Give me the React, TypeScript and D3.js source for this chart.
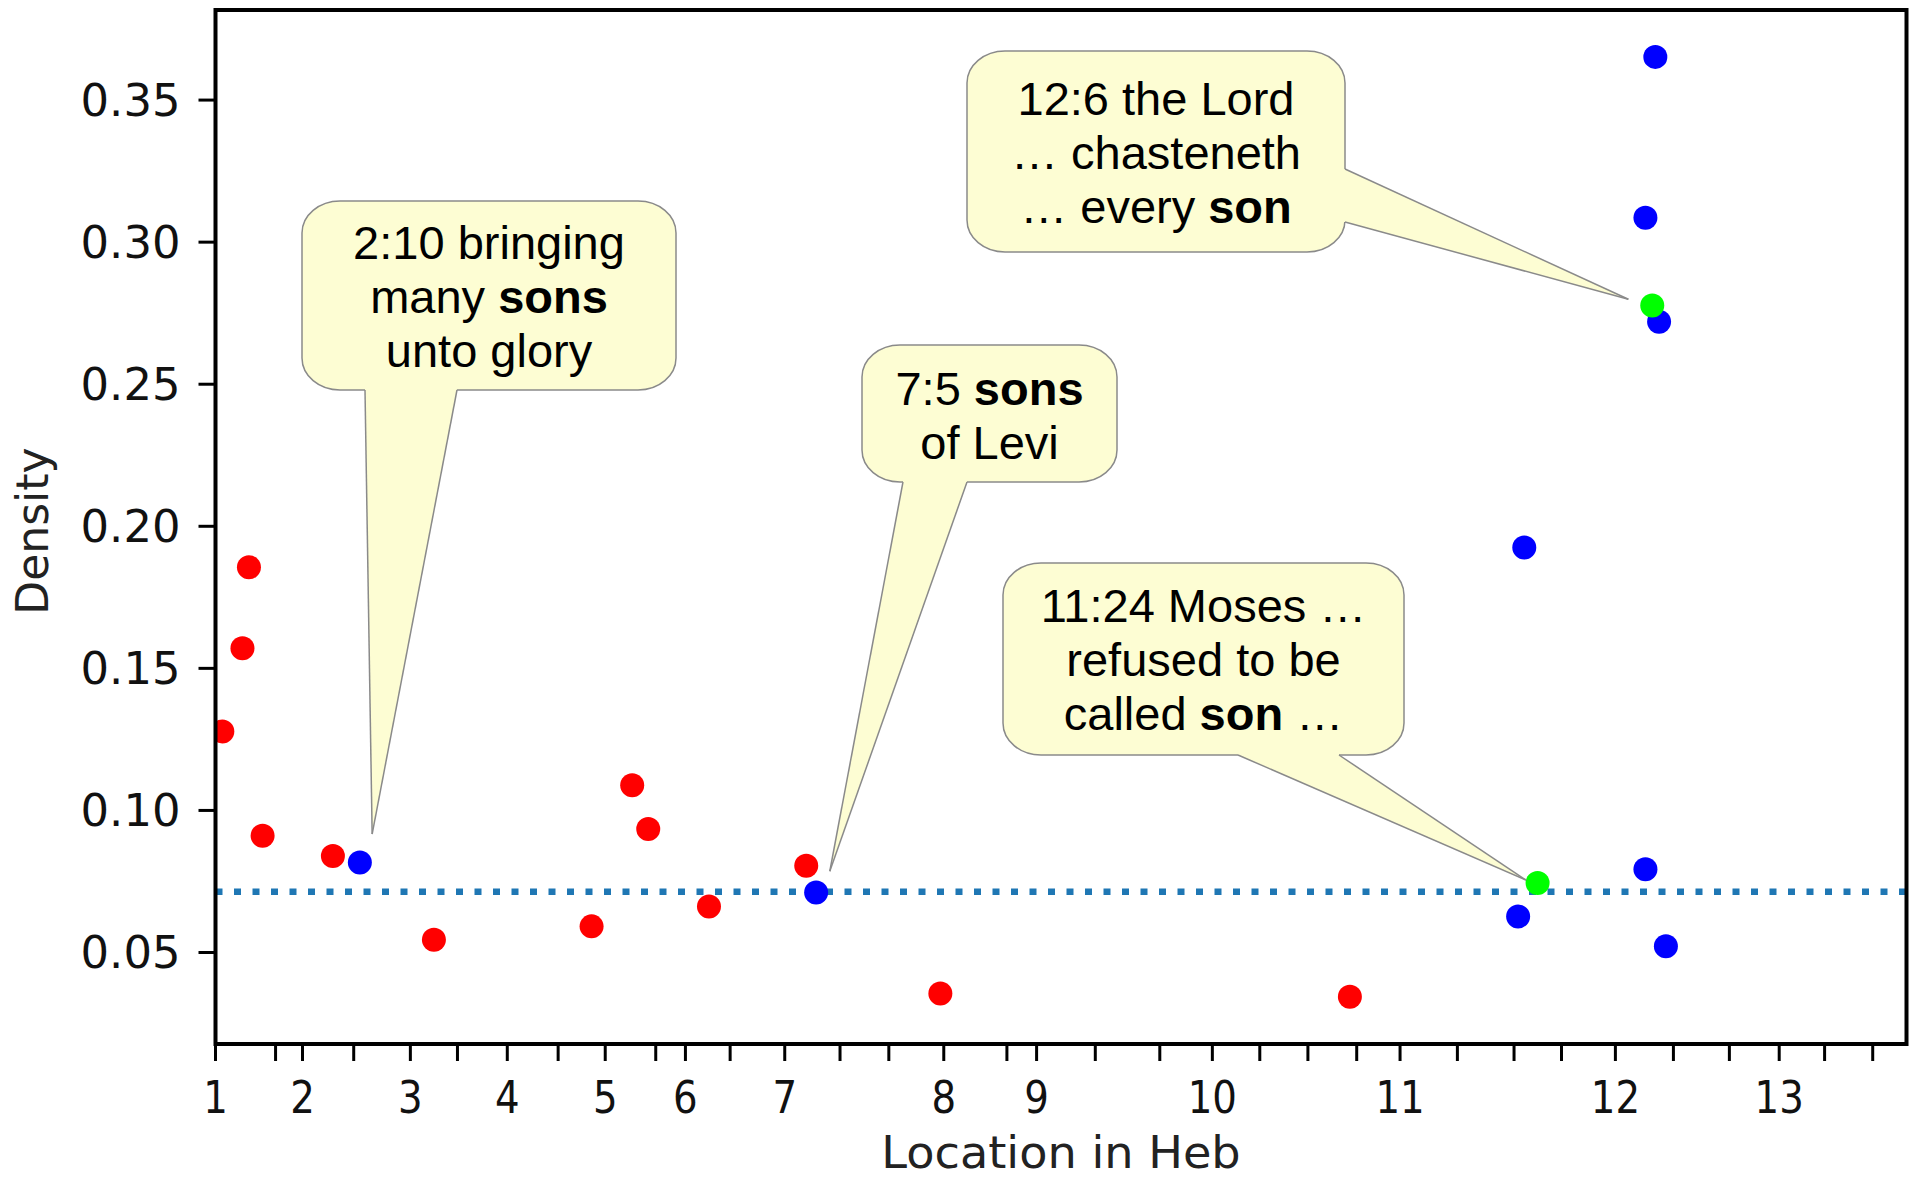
import * as d3 from "d3";

// x is a running position through Hebrews (word offset); ticks at chapter starts + every 10 verses
const CHAPTER_LABELS = ["1", "2", "3", "4", "5", "6", "7", "8", "9", "10", "11", "12", "13"];
const CHAPTER_START = [0, 255, 571, 855, 1142, 1377, 1668, 2134, 2406, 2921, 3471, 4102, 4582];
const MINOR_TICKS = [176, 405, 709, 1004, 1290, 1508, 1830, 1973, 2319, 2578, 2767, 3060, 3201, 3344, 3639, 3805, 3944, 4272, 4436, 4715, 4856];
const BOOK_END = 4955;

const Y_TICKS = [0.05, 0.1, 0.15, 0.2, 0.25, 0.3, 0.35];
const Y_DOMAIN = [0.0178, 0.3817];
const MEAN_DENSITY = 0.0714;

const RED_LOC = [20, 79, 98, 138, 344, 640, 1102, 1221, 1268, 1446, 1731, 2124, 3324];
const RED_VAL = [0.1278, 0.1571, 0.1856, 0.0911, 0.084, 0.0545, 0.0592, 0.1089, 0.0935, 0.0662, 0.0805, 0.0356, 0.0344];
const BLUE_LOC = [423, 1760, 3817, 3835, 4190, 4190, 4219, 4230, 4250];
const BLUE_VAL = [0.0817, 0.0711, 0.0627, 0.1925, 0.0793, 0.3086, 0.3652, 0.272, 0.0522];
const GREEN_LOC = [3874, 4210];
const GREEN_VAL = [0.0745, 0.2777];

type Seg = [string, boolean];
interface Note {
  lines: Seg[][];
  tip: [number, number];
  box: [number, number, number, number];
  side: "bottom" | "right";
  base: [number, number];
  firstBaseline: number;
}

const NOTES: Note[] = [
  {
    lines: [[["2:10 bringing", false]], [["many ", false], ["sons", true]], [["unto glory", false]]],
    tip: [459, 0.0917], box: [302, 201, 676, 390], side: "bottom", base: [365, 457], firstBaseline: 259,
  },
  {
    lines: [[["12:6 the Lord", false]], [["\u2026 chasteneth", false]], [["\u2026 every ", false], ["son", true]]],
    tip: [4140, 0.2799], box: [967, 51, 1345, 252], side: "right", base: [169, 222], firstBaseline: 115,
  },
  {
    lines: [[["7:5 ", false], ["sons", true]], [["of Levi", false]]],
    tip: [1800, 0.0786], box: [862, 345, 1117, 482], side: "bottom", base: [903, 967], firstBaseline: 405,
  },
  {
    lines: [[["11:24 Moses \u2026", false]], [["refused to be", false]], [["called ", false], ["son", true], [" \u2026", false]]],
    tip: [3840, 0.0755], box: [1003, 563, 1404, 755], side: "bottom", base: [1238, 1339], firstBaseline: 622,
  },
];

const W = 1912, H = 1180;
const M = { left: 215.5, right: 1906.5, top: 10, bottom: 1044 };
const FILL = "#fdfdd3";
const EDGE = "#8a8a8a";

export default function App() {
  const x = d3.scaleLinear().domain([0, BOOK_END]).range([M.left, M.right]);
  const y = d3.scaleLinear().domain(Y_DOMAIN).range([M.bottom, M.top]);

  const allTicks = [...CHAPTER_START, ...MINOR_TICKS];
  const dot = (loc: number[], val: number[], color: string, key: string) =>
    loc.map((l, i) => <circle key={key + i} cx={x(l)} cy={y(val[i])} r={12} fill={color} />);

  return (
    <svg width={W} height={H} style={{ position: "absolute", left: 0, top: 0, background: "#fff" }} fontFamily="'DejaVu Sans', sans-serif">
      <defs>
        <clipPath id="plot">
          <rect x={M.left} y={M.top} width={M.right - M.left} height={M.bottom - M.top} />
        </clipPath>
      </defs>

      <g clipPath="url(#plot)">
        <line x1={M.left} x2={M.right} y1={y(MEAN_DENSITY)} y2={y(MEAN_DENSITY)}
          stroke="#1f77b4" strokeWidth={6.5} strokeDasharray="7 11.5" />
        {dot(RED_LOC, RED_VAL, "#ff0000", "r")}
        {dot(BLUE_LOC, BLUE_VAL, "#0000ff", "b")}
        {dot(GREEN_LOC, GREEN_VAL, "#00ff00", "g")}
      </g>

      {/* frame */}
      <rect x={M.left} y={M.top} width={M.right - M.left} height={M.bottom - M.top} fill="none" stroke="#000" strokeWidth={4} />

      {/* y axis */}
      {Y_TICKS.map(t => (
        <g key={t}>
          <line x1={M.left - 17} x2={M.left} y1={y(t)} y2={y(t)} stroke="#000" strokeWidth={3} />
          <text transform={`translate(${M.left - 35},${y(t)}) scale(1.02,1)`} dy="0.36em" textAnchor="end" fontSize={44} fill="#111">{t.toFixed(2)}</text>
        </g>
      ))}
      <text transform={`translate(48,531) rotate(-90)`} textAnchor="middle" fontSize={44} fill="#222">Density</text>

      {/* x axis */}
      {allTicks.map(t => (
        <line key={t} x1={x(t)} x2={x(t)} y1={M.bottom} y2={M.bottom + 17} stroke="#000" strokeWidth={3} />
      ))}
      {CHAPTER_START.map((t, i) => (
        <text key={t} transform={`translate(${x(t)},1113) scale(0.88,1)`} textAnchor="middle" fontSize={44} fill="#111">
          {CHAPTER_LABELS[i]}
        </text>
      ))}
      <text transform="translate(1061,1168) scale(1.05,1)" textAnchor="middle" fontSize={44} fill="#222">Location in Heb</text>

      {/* callouts */}
      {NOTES.map((n, i) => {
        const [x0, y0, x1, y1] = n.box;
        const tx = x(n.tip[0]), ty = y(n.tip[1]);
        const b1: [number, number] = n.side === "bottom" ? [n.base[0], y1] : [x1, n.base[0]];
        const b2: [number, number] = n.side === "bottom" ? [n.base[1], y1] : [x1, n.base[1]];
        const inset = (p: [number, number]) => (n.side === "bottom" ? [p[0], p[1] - 3] : [p[0] - 3, p[1]]);
        const i1 = inset(b1), i2 = inset(b2);
        const cx = (x0 + x1) / 2;
        return (
          <g key={i}>
            <rect x={x0} y={y0} width={x1 - x0} height={y1 - y0} rx={38} ry={32} fill={FILL} stroke={EDGE} strokeWidth={1.5} />
            <path d={`M${i1[0]},${i1[1]}L${b1[0]},${b1[1]}L${tx},${ty}L${b2[0]},${b2[1]}L${i2[0]},${i2[1]}Z`} fill={FILL} stroke="none" />
            <line x1={b1[0]} y1={b1[1]} x2={tx} y2={ty} stroke={EDGE} strokeWidth={1.5} />
            <line x1={b2[0]} y1={b2[1]} x2={tx} y2={ty} stroke={EDGE} strokeWidth={1.5} />
            {n.lines.map((segs, j) => (
              <text key={j} x={cx} y={n.firstBaseline + j * 54} textAnchor="middle" fontSize={47}
                fontFamily="'Liberation Sans', Arial, sans-serif" fill="#000">
                {segs.map(([s, b], k) => (
                  <tspan key={k} fontWeight={b ? "bold" : "normal"}>{s}</tspan>
                ))}
              </text>
            ))}
          </g>
        );
      })}
    </svg>
  );
}
